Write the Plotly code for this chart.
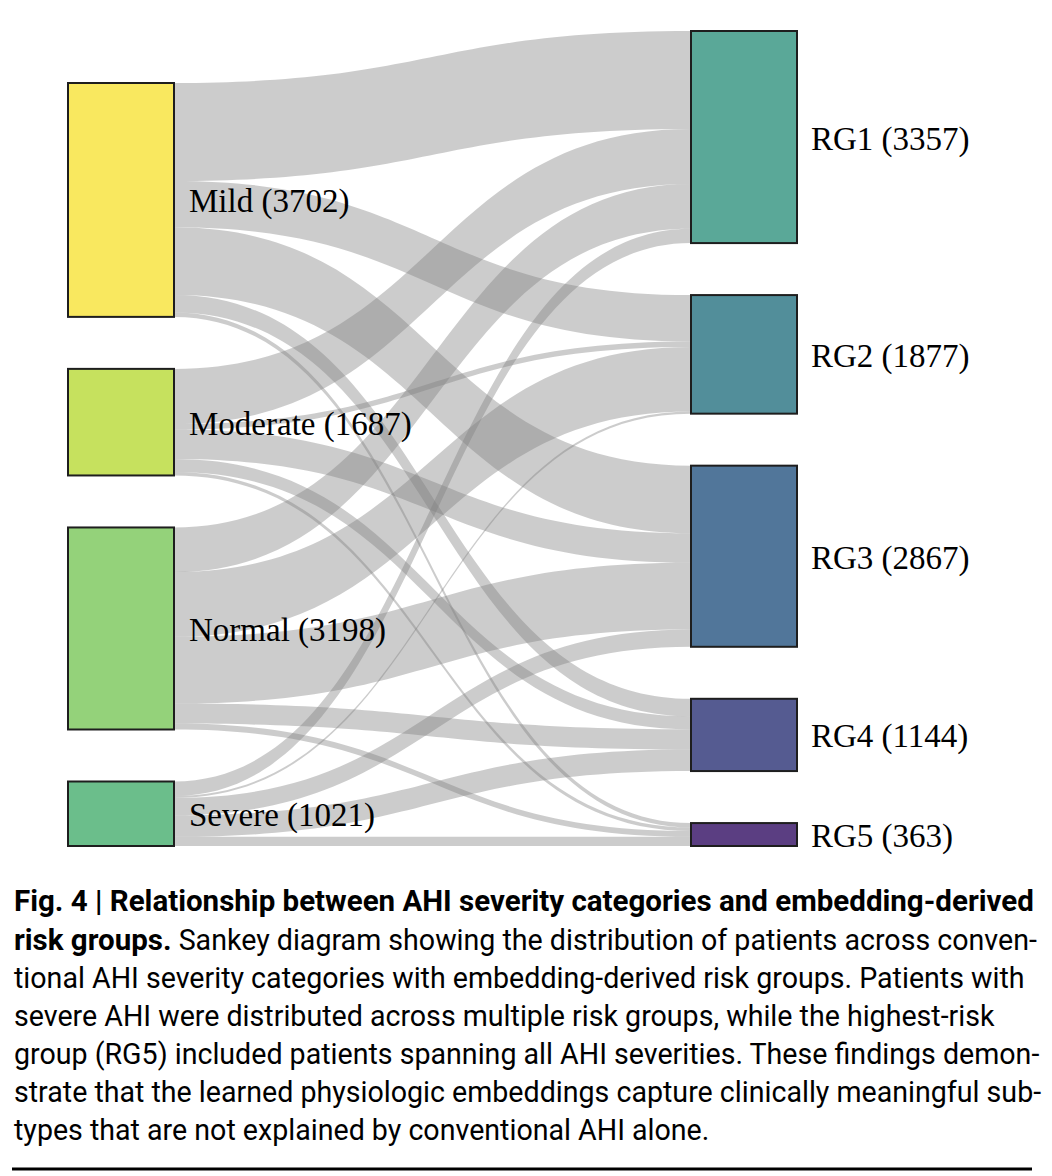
import plotly.graph_objects as go

# the page body adds an 8px margin, so the figure is drawn 8px in from the corner
OFF = 8
FW, FH = 1052 - OFF, 1176 - OFF

# AHI severity categories (left column) and embedding-derived risk groups (right column)
severity = ["Mild", "Moderate", "Normal", "Severe"]
severity_totals = [3702, 1687, 3198, 1021]
risk_groups = ["RG1", "RG2", "RG3", "RG4", "RG5"]
risk_totals = [3357, 1877, 2867, 1144, 363]

# patients flowing from each severity category into RG1..RG5
flow_mild = [1550, 735, 1070, 277, 70]
flow_moderate = [873, 85, 467, 207, 55]
flow_normal = [706, 1023, 1058, 318, 93]
flow_severe = [228, 34, 272, 342, 145]

severity_colors = ["#f9e85f", "#c6e15e", "#94d27a", "#6bbe8b"]
risk_colors = ["#5aa898", "#528e9a", "#51769a", "#555b91", "#5b3e82"]

caption_lines = [
    "<span style='font-size:29.5px'><b>Fig. 4 | Relationship between AHI severity categories and embedding-derived</b></span>",
    "<span style='font-size:29.5px'><b>risk groups.</b></span> Sankey diagram showing the distribution of patients across conven-",
    "tional AHI severity categories with embedding-derived risk groups. Patients with",
    "severe AHI were distributed across multiple risk groups, while the highest-risk",
    "group (RG5) included patients spanning all AHI severities. These findings demon-",
    "strate that the learned physiologic embeddings capture clinically meaningful sub-",
    "types that are not explained by conventional AHI alone.",
]


def px(x):
    return (x - OFF) / FW


def py(y):
    return 1 - (y - OFF) / FH


# sankey box in page pixels
dom_left, dom_right, dom_top, dom_bottom = 68, 797, 31, 846
thickness, pad = 106, 52
dom_w = dom_right - dom_left
dom_h = dom_bottom - dom_top
# same scale plotly uses: the fullest column fills the height
ky = (dom_h - (len(risk_totals) - 1) * pad) / sum(risk_totals)


def column_centers(totals, align_bottom):
    used = sum(totals) * ky + (len(totals) - 1) * pad
    y = dom_h - used if align_bottom else 0
    centers = []
    for t in totals:
        h = t * ky
        centers.append(y + h / 2)
        y += h + pad
    return centers


left_centers = column_centers(severity_totals, True)
right_centers = column_centers(risk_totals, False)

node_x = [thickness / 2 / dom_w] * len(severity) + [1 - thickness / 2 / dom_w] * len(risk_groups)
node_y = [c / dom_h for c in left_centers + right_centers]

labels = [f"{n} ({t})" for n, t in zip(severity, severity_totals)]
labels += [f"{n} ({t})" for n, t in zip(risk_groups, risk_totals)]

flows = [flow_mild, flow_moderate, flow_normal, flow_severe]
sources, targets, values = [], [], []
for i, row in enumerate(flows):
    for j, v in enumerate(row):
        sources.append(i)
        targets.append(len(severity) + j)
        values.append(v)

fig = go.Figure(
    go.Sankey(
        domain=dict(x=[px(dom_left), px(dom_right)], y=[py(dom_bottom), py(dom_top)]),
        arrangement="snap",
        node=dict(
            label=[""] * len(labels),
            customdata=labels,
            hovertemplate="%{customdata}<extra></extra>",
            color=severity_colors + risk_colors,
            thickness=thickness,
            pad=pad,
            x=node_x,
            y=node_y,
            line=dict(color="#1e1e1e", width=2),
        ),
        link=dict(
            source=sources,
            target=targets,
            value=values,
            color="rgba(128,128,128,0.4)",
        ),
    )
)

# node labels sit to the right of both columns
label_font = dict(family="Liberation Serif", size=33, color="black")
for text, c in zip(labels[: len(severity)], left_centers):
    fig.add_annotation(
        x=px(dom_left + thickness + 13), y=py(dom_top + c + 2), xref="paper", yref="paper",
        xanchor="left", yanchor="middle", text=text, showarrow=False, font=label_font,
    )
for text, c in zip(labels[len(severity):], right_centers):
    fig.add_annotation(
        x=px(dom_right + 12), y=py(dom_top + c + 2), xref="paper", yref="paper",
        xanchor="left", yanchor="middle", text=text, showarrow=False, font=label_font,
    )

# caption underneath the diagram
line_y = [901, 940, 978, 1016, 1054, 1092, 1130]
for text, y in zip(caption_lines, line_y):
    fig.add_annotation(
        x=px(12),
        y=py(y),
        xref="paper",
        yref="paper",
        xanchor="left",
        yanchor="middle",
        text=text,
        showarrow=False,
        font=dict(family="Roboto", size=28.6, color="black"),
    )

fig.add_shape(
    type="line",
    xref="paper",
    yref="paper",
    x0=px(12),
    x1=px(1032),
    y0=py(1169),
    y1=py(1169),
    line=dict(color="black", width=3),
)

fig.update_layout(
    width=FW,
    height=FH,
    margin=dict(l=0, r=0, t=0, b=0),
    paper_bgcolor="white",
    plot_bgcolor="white",
)

fig.write_html("out.html")
